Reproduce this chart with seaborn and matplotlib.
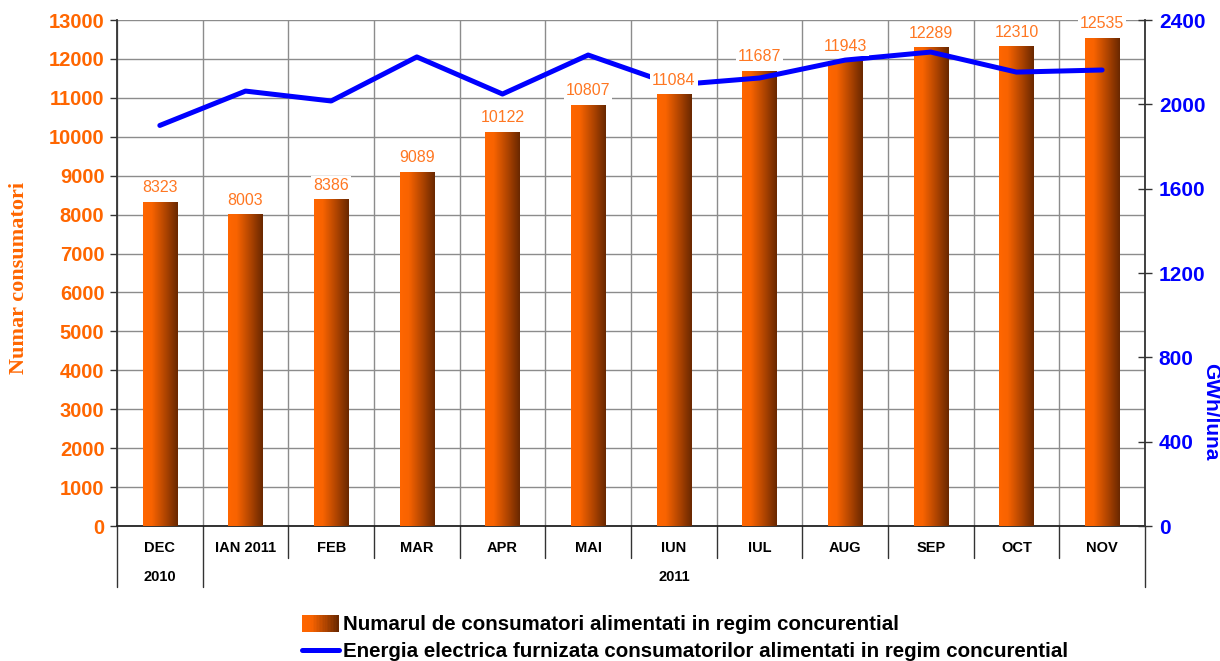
import matplotlib.pyplot as plt
import matplotlib.transforms as mtransforms
from matplotlib.legend_handler import HandlerBase
from matplotlib.patches import Rectangle, Patch
from matplotlib.lines import Line2D
from matplotlib.colors import LinearSegmentedColormap
import seaborn as sns
import pandas as pd
import numpy as np

months = ['DEC', 'IAN 2011', 'FEB', 'MAR', 'APR', 'MAI', 'IUN',
          'IUL', 'AUG', 'SEP', 'OCT', 'NOV']
consumers = [8323, 8003, 8386, 9089, 10122, 10807, 11084,
             11687, 11943, 12289, 12310, 12535]
energy = [1900, 2063, 2016, 2225, 2049, 2234, 2092,
          2125, 2210, 2248, 2153, 2163]
year_labels = ['2010', '2011']
legend_bar = 'Numarul de consumatori alimentati in regim concurential'
legend_line = 'Energia electrica furnizata consumatorilor alimentati in regim concurential'

sns.set_theme(style="white")
plt.rcParams['font.family'] = ['Liberation Sans', 'DejaVu Sans']

ORANGE = '#FF6600'
BLUE = '#0000FF'
grad_cmap = LinearSegmentedColormap.from_list(
    'bar', [(0, '#FF6600'), (0.25, '#F86300'), (0.6, '#B84800'), (1, '#6A2800')])


class GradientHandler(HandlerBase):
    def create_artists(self, legend, orig_handle, xdescent, ydescent,
                       width, height, fontsize, trans):
        n = 24
        arts = []
        for i in range(n):
            r = Rectangle((-xdescent + width * i / n, -ydescent - 1), width / n + 0.3, height + 2,
                          facecolor=grad_cmap(i / (n - 1)), edgecolor='none',
                          transform=trans)
            arts.append(r)
        return arts


df = pd.DataFrame({'Luna': months, 'Consumatori': consumers, 'Energie': energy})

fig = plt.figure(figsize=(12.2, 6.61), dpi=100)
ax = fig.add_axes([0.0959, 0.2042, 0.8426, 0.7655])

sns.barplot(data=df, x='Luna', y='Consumatori', ax=ax, color=ORANGE,
            width=0.4, edgecolor='none', saturation=1, zorder=2)

# gradient fill on each bar
grad = np.linspace(0, 1, 64).reshape(1, -1)
for p in ax.patches:
    x0, y0 = p.get_x(), p.get_y()
    w, h = p.get_width(), p.get_height()
    ax.imshow(grad, cmap=grad_cmap, aspect='auto', extent=[x0, x0 + w, y0, y0 + h],
              zorder=3, interpolation='bilinear')
ax.set_aspect('auto')
ax.set_xlim(-0.5, len(months) - 0.5)
ax.set_ylim(0, 13000)
ax.set_yticks(range(0, 13001, 1000))

ax.set_xticks(range(len(months)))
ax.set_xticklabels(months, fontsize=10.5, fontweight='bold', color='black')
ax.set_xticks(np.arange(-0.5, len(months), 1), minor=True)
ax.tick_params(axis='x', which='both', length=0, pad=11)
ax.tick_params(axis='y', length=5, width=1, color='#333333', direction='out', left=True,
               labelsize=14.5, labelcolor=ORANGE, pad=4)
for lab in ax.get_yticklabels():
    lab.set_fontweight('bold')

ax.grid(True, axis='y', which='major', color='#8c8c8c', lw=1, zorder=0)
ax.grid(True, axis='x', which='minor', color='#8c8c8c', lw=1, zorder=0)
ax.set_axisbelow(True)

for s in ['top', 'right']:
    ax.spines[s].set_visible(False)
ax.spines['left'].set_color('#333333')
ax.spines['bottom'].set_color('#222222')
ax.spines['left'].set_linewidth(1.3)
ax.spines['bottom'].set_linewidth(1.3)

ax.set_xlabel('')
ax.set_ylabel('')
ax.text(-0.095, 0.49, 'Numar consumatori', transform=ax.transAxes, rotation=90,
        ha='center', va='center', family=['Liberation Serif', 'DejaVu Serif'],
        fontsize=16, fontweight='bold', color=ORANGE)

# category separators below the axis
trans = mtransforms.blended_transform_factory(ax.transData, ax.transAxes)
for i in range(len(months) + 1):
    xb = i - 0.5
    long = i in (0, 1, len(months))
    ax.plot([xb, xb], [0, -0.12 if long else -0.063], transform=trans, color='#333333',
            lw=1, clip_on=False, zorder=1)
ax.text(0, -0.101, year_labels[0], transform=trans, ha='center', va='center',
        fontsize=10.5, fontweight='bold', color='black')
ax.text((1 + len(months) - 1) / 2, -0.101, year_labels[1], transform=trans, ha='center',
        va='center', fontsize=10.5, fontweight='bold', color='black')

# energy line on secondary axis
ax2 = ax.twinx()
sns.lineplot(data=df, x='Luna', y='Energie', ax=ax2, color=BLUE, lw=3.6, sort=False,
             zorder=4)
ax2.set_ylim(0, 2400)
ax2.set_yticks(range(0, 2401, 400))
ax2.set_ylabel('')
ax2.text(1.064, 0.225, 'GWh/luna', transform=ax2.transAxes, rotation=270,
         ha='center', va='center', fontsize=15, fontweight='bold', color=BLUE)
ax2.tick_params(axis='y', length=10, width=1, color='#333333', direction='inout', right=True,
                labelsize=15, labelcolor=BLUE, pad=5)
for lab in ax2.get_yticklabels():
    lab.set_fontweight('bold')
for s in ['top', 'left', 'bottom']:
    ax2.spines[s].set_visible(False)
ax2.spines['right'].set_color('#333333')
ax2.spines['right'].set_linewidth(1.3)
ax2.grid(False)
ax2.set_xlabel('')

# value labels above bars, drawn over the line
for i, v in enumerate(consumers):
    ax2.annotate(f'{v}', xy=(i, v), xycoords=ax.transData, xytext=(0, 5),
                 textcoords='offset points', ha='center', va='bottom',
                 fontsize=11.5, color='#FF7722', zorder=6,
                 bbox=dict(facecolor='white', edgecolor='none', pad=1.5))

handles = [Patch(label=legend_bar), Line2D([0], [0], color=BLUE, lw=3.6, label=legend_line)]
fig.legend(handles=handles, loc='center', bbox_to_anchor=(0.5615, 0.0345), ncol=1,
           frameon=False, handler_map={Patch: GradientHandler()},
           prop={'weight': 'bold', 'size': 14.8}, handlelength=1.8, handletextpad=0.2,
           labelspacing=0.38, borderpad=0, labelcolor='black')

plt.savefig('out.png', dpi=100)
